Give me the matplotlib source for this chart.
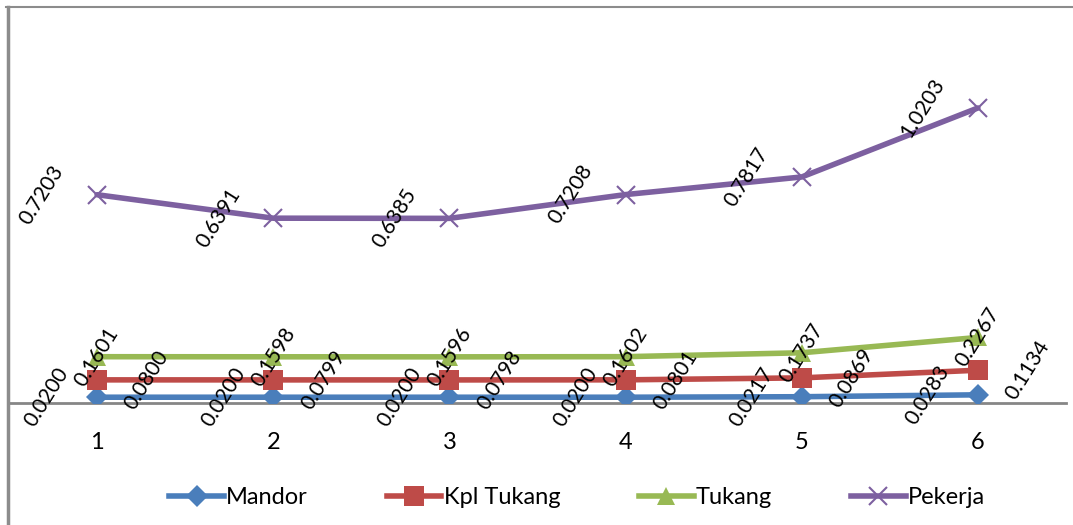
import matplotlib
matplotlib.use('Agg')
import matplotlib.pyplot as plt
from matplotlib.lines import Line2D

categories = ['1', '2', '3', '4', '5', '6']
mandor = [0.0200, 0.0200, 0.0200, 0.0200, 0.0217, 0.0283]
kpl_tukang = [0.0800, 0.0799, 0.0798, 0.0801, 0.0869, 0.1134]
tukang = [0.1601, 0.1598, 0.1596, 0.1602, 0.1737, 0.2267]
pekerja = [0.7203, 0.6391, 0.6385, 0.7208, 0.7817, 1.0203]

plt.rcParams['font.family'] = ['Lato', 'DejaVu Sans']

fig = plt.figure(figsize=(10.73, 5.25), dpi=100)
ax = fig.add_axes([9 / 1073, 122 / 525, 1057 / 1073, 347 / 525])

x = list(range(1, len(categories) + 1))
# name, values, colour, marker, marker size, label x offset (px)
series = [
    ('Mandor', mandor, '#4a7ebb', 'D', 11, -50),
    ('Kpl Tukang', kpl_tukang, '#be4b48', 's', 14, 50),
    ('Tukang', tukang, '#98b954', '^', 13, 0),
    ('Pekerja', pekerja, '#7d60a0', 'x', 13, -55),
]

for name, vals, col, mk, ms, dx in series:
    ax.plot(x, vals, color=col, lw=4, marker=mk, markersize=ms,
            markeredgewidth=1.5 if mk == 'x' else 0, markeredgecolor=col,
            label=name, solid_capstyle='round', zorder=3)
    for xi, v in zip(x, vals):
        ax.annotate('%.4f' % v, (xi, v), xytext=(dx * 0.72, 0),
                    textcoords='offset points', rotation=58,
                    ha='center', va='center', fontsize=15, zorder=4)

ax.set_xlim(0.5, 6.5)
ax.set_ylim(0, 1.2)
ax.set_xticks(x)
ax.set_xticklabels(categories, fontsize=17)
ax.tick_params(axis='x', length=0, pad=21)
ax.set_yticks([])
for s in ['top', 'right', 'left']:
    ax.spines[s].set_visible(False)
ax.spines['bottom'].set_color('#868686')
ax.spines['bottom'].set_linewidth(2)

handles = [Line2D([], [], color=c, lw=4, marker=m, markersize=ms,
                  markeredgewidth=1.5 if m == 'x' else 0, markeredgecolor=c)
           for _, _, c, m, ms, _ in series]
fig.legend(handles, [s[0] for s in series], loc='center',
           bbox_to_anchor=(0.538, 1 - 498 / 525), ncol=4, frameon=False,
           fontsize=17, handlelength=2.3, handletextpad=0.1,
           columnspacing=3.35)

# chart border (left and top edges visible)
fig.add_artist(Line2D([7.5 / 1073, 7.5 / 1073], [0, 1 - 7 / 525],
                      transform=fig.transFigure, color='#8c8c8c', lw=2.5))
fig.add_artist(Line2D([6 / 1073, 1], [1 - 7 / 525, 1 - 7 / 525],
                      transform=fig.transFigure, color='#8c8c8c', lw=1.5))

fig.savefig('out.png', dpi=100)
